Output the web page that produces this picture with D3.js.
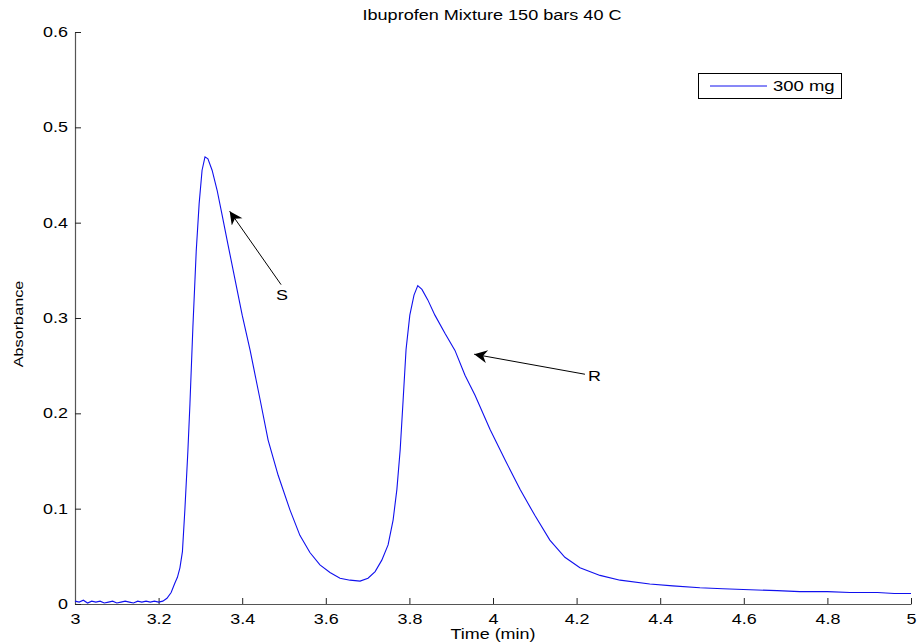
<!DOCTYPE html>
<html><head><meta charset="utf-8">
<script src="https://cdn.jsdelivr.net/npm/d3@7"></script>
<style>body{margin:0;background:#fff}svg{display:block}text{font-family:"Liberation Sans",Arial,sans-serif}</style>
</head><body>
<script>
const timeMin = [3.00,3.01,3.02,3.03,3.04,3.05,3.06,3.07,3.08,3.09,3.10,3.11,3.12,3.13,3.14,3.15,3.16,3.17,3.18,3.19,3.20,3.21,3.22,3.23,3.239,3.245,3.251,3.257,3.263,3.27,3.275,3.282,3.29,3.297,3.304,3.311,3.318,3.328,3.34,3.352,3.366,3.383,3.40,3.419,3.443,3.462,3.486,3.514,3.538,3.562,3.586,3.61,3.634,3.658,3.682,3.701,3.718,3.734,3.749,3.761,3.77,3.778,3.785,3.792,3.801,3.811,3.82,3.83,3.844,3.861,3.885,3.909,3.933,3.957,3.993,4.029,4.065,4.10,4.136,4.172,4.208,4.256,4.304,4.375,4.43,4.495,4.55,4.615,4.68,4.734,4.80,4.854,4.92,4.96,5.00];
const absorbance = [0.003,0.002,0.004,0.001,0.003,0.002,0.003,0.001,0.002,0.003,0.001,0.002,0.003,0.002,0.001,0.003,0.002,0.003,0.002,0.003,0.002,0.003,0.006,0.012,0.022,0.028,0.038,0.055,0.100,0.160,0.210,0.290,0.370,0.420,0.455,0.469,0.467,0.455,0.434,0.408,0.377,0.340,0.303,0.266,0.214,0.172,0.135,0.099,0.072,0.054,0.041,0.033,0.027,0.025,0.024,0.027,0.034,0.046,0.062,0.088,0.120,0.162,0.214,0.267,0.303,0.324,0.334,0.330,0.319,0.303,0.284,0.266,0.240,0.219,0.183,0.151,0.120,0.093,0.067,0.049,0.038,0.030,0.025,0.021,0.019,0.017,0.016,0.015,0.014,0.013,0.013,0.012,0.012,0.011,0.011];
const xTicks = [3,3.2,3.4,3.6,3.8,4,4.2,4.4,4.6,4.8,5];
const yTicks = [0,0.1,0.2,0.3,0.4,0.5,0.6];
const seriesName = "300 mg";
const annotations = [
  {label:"S", fromT:3.493, fromA:0.335, toT:3.37, toA:0.412},
  {label:"R", fromT:4.22, fromA:0.241, toT:3.955, toA:0.262}
];

const W=917,H=643;
const m={l:75,r:6,t:32,b:39};
const svg=d3.select("body").append("svg").attr("width",W).attr("height",H);
const x=d3.scaleLinear().domain([3,5]).range([m.l,W-m.r]);
const y=d3.scaleLinear().domain([0,0.6]).range([H-m.b,m.t]);

function stretch(sel,k){
  sel.each(function(){
    const w=this.getComputedTextLength();
    d3.select(this).attr("textLength",w*k).attr("lengthAdjust","spacingAndGlyphs");
  });
}

svg.append("defs").append("marker").attr("id","ah").attr("viewBox","0 0 10 10")
  .attr("refX",10).attr("refY",5).attr("markerWidth",16).attr("markerHeight",13)
  .attr("markerUnits","userSpaceOnUse").attr("orient","auto")
  .append("path").attr("d","M0,0 L10,5 L0,10 L3,5 Z").attr("fill","#000");

// axes
const xa=svg.append("g").attr("transform",`translate(0,${H-m.b})`)
  .call(d3.axisBottom(x).tickValues(xTicks).tickSizeInner(-6).tickSizeOuter(0).tickPadding(10).tickFormat(d=>d3.format("")(+d.toFixed(1))));
const ya=svg.append("g").attr("transform",`translate(${m.l},0)`)
  .call(d3.axisLeft(y).tickValues(yTicks).tickSizeInner(-6).tickSizeOuter(0).tickPadding(7).tickFormat(d=>d===0?"0":d3.format(".1f")(d)));
[xa,ya].forEach(a=>{
  a.select(".domain").attr("stroke","#555").attr("stroke-width",1.2);
  a.selectAll(".tick line").attr("stroke","#222");
  a.selectAll("text").attr("font-size",14).attr("fill","#000").call(stretch,1.28);
});

svg.append("path").datum(timeMin.map((t,i)=>[t,absorbance[i]]))
  .attr("fill","none").attr("stroke","#1010ee").attr("stroke-width",1.1)
  .attr("d",d3.line().x(d=>x(d[0])).y(d=>y(d[1])));

svg.append("text").attr("x",492).attr("y",20).attr("text-anchor","middle").attr("font-size",14).text("Ibuprofen Mixture 150 bars 40 C").call(stretch,1.29);
svg.append("text").attr("x",493).attr("y",639).attr("text-anchor","middle").attr("font-size",14).text("Time (min)").call(stretch,1.28);
svg.append("text").attr("transform","translate(23,324) rotate(-90)").attr("text-anchor","middle").attr("font-size",13).text("Absorbance").call(stretch,1.25);

annotations.forEach(a=>{
  svg.append("line").attr("x1",x(a.fromT)).attr("y1",y(a.fromA)).attr("x2",x(a.toT)).attr("y2",y(a.toA))
    .attr("stroke","#000").attr("stroke-width",1).attr("marker-end","url(#ah)");
});
svg.append("text").attr("x",x(3.493)-5).attr("y",y(0.335)+15).attr("font-size",14).text("S").call(stretch,1.28);
svg.append("text").attr("x",x(4.22)+3).attr("y",y(0.241)+7).attr("font-size",14).text("R").call(stretch,1.28);

// legend
const lg=svg.append("g");
lg.append("rect").attr("x",698.5).attr("y",73.5).attr("width",143).attr("height",25).attr("fill","#fff").attr("stroke","#000");
lg.append("line").attr("x1",710).attr("x2",767).attr("y1",86).attr("y2",86).attr("stroke","#1010ee");
lg.append("text").attr("x",773).attr("y",91).attr("font-size",14).text(seriesName).call(stretch,1.32);
</script>
</body></html>
